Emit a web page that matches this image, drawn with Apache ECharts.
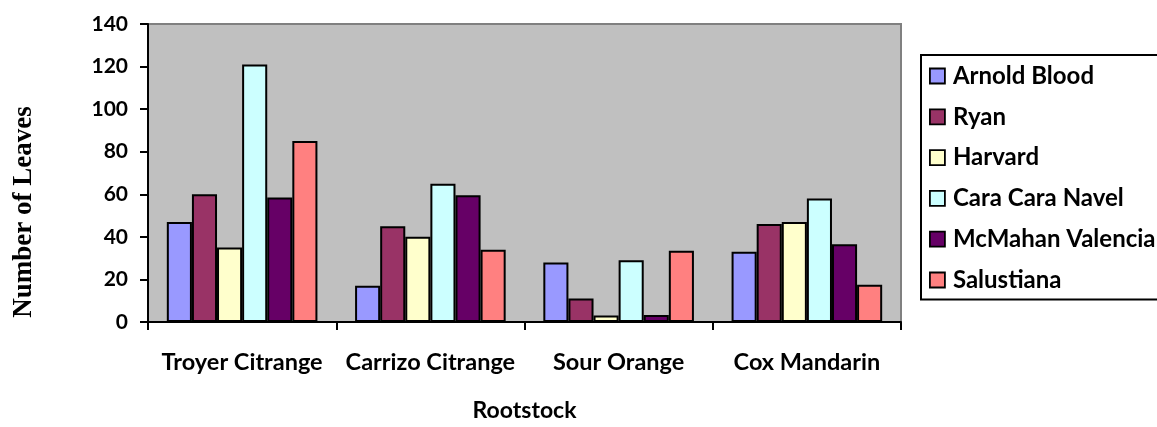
<!DOCTYPE html>
<html>
<head>
<meta charset="utf-8">
<script src="https://cdn.jsdelivr.net/npm/echarts@6/dist/echarts.min.js"></script>
<style>
  html, body { margin: 0; padding: 0; background: #ffffff; }
  #chart { width: 1157px; height: 427px; }
</style>
</head>
<body>
<div id="chart"></div>
<script>
// Rootstock categories on the x axis
const rootstocks = ['Troyer Citrange', 'Carrizo Citrange', 'Sour Orange', 'Cox Mandarin'];

// Leaf counts per scion variety, one value per rootstock
const arnoldBlood     = [47, 17, 28, 33];
const ryan            = [60, 45, 11, 46];
const harvard         = [35, 40, 3, 47];
const caraCaraNavel   = [121, 65, 29, 58];
const mcmahanValencia = [58.5, 59.5, 3.3, 36.5];
const salustiana      = [85, 34, 33.5, 17.5];

const seriesNames = ['Arnold Blood', 'Ryan', 'Harvard', 'Cara Cara Navel', 'McMahan Valencia', 'Salustiana'];
const seriesData  = [arnoldBlood, ryan, harvard, caraCaraNavel, mcmahanValencia, salustiana];
const seriesColors = ['#9999FF', '#993366', '#FFFFCC', '#CCFFFF', '#660066', '#FF8080'];

const sansBold = { fontFamily: 'Lato', fontWeight: 'bold', color: '#000000' };

const chart = echarts.init(document.getElementById('chart'), null, { renderer: 'canvas' });

chart.setOption({
  animation: false,
  backgroundColor: '#ffffff',
  grid: {
    left: 148, right: 256, top: 24, bottom: 97,
    show: true,
    backgroundColor: '#C0C0C0',
    borderColor: '#808080',
    borderWidth: 2
  },
  legend: {
    orient: 'vertical',
    left: 921,
    top: 55,
    padding: [9, 200, 7.5, 8],
    itemGap: 16.8,
    itemWidth: 15,
    itemHeight: 15,
    icon: 'rect',
    borderColor: '#000000',
    borderWidth: 2,
    backgroundColor: '#ffffff',
    itemStyle: { borderColor: '#000000', borderWidth: 1.8 },
    textStyle: Object.assign({ fontSize: 24, lineHeight: 20, padding: [0, 0, 0, 3] }, sansBold),
    data: seriesNames
  },
  xAxis: {
    type: 'category',
    data: rootstocks,
    name: 'Rootstock',
    nameLocation: 'middle',
    nameGap: 77,
    nameTextStyle: Object.assign({ fontSize: 23 }, sansBold),
    axisLine: { lineStyle: { color: '#000000', width: 2 } },
    axisTick: { show: true, interval: 0, length: 8, lineStyle: { color: '#000000', width: 2 } },
    axisLabel: Object.assign({ interval: 0, fontSize: 23.5, margin: 28 }, sansBold),
    splitLine: { show: false }
  },
  yAxis: {
    type: 'value',
    min: 0,
    max: 140,
    interval: 20,
    axisLine: { show: true, lineStyle: { color: '#000000', width: 2 } },
    axisTick: { show: true, length: 8, lineStyle: { color: '#000000', width: 2 } },
    axisLabel: Object.assign({ fontSize: 21, margin: 20 }, sansBold),
    splitLine: { show: false }
  },
  graphic: [{
    type: 'text',
    x: 24,
    y: 212,
    rotation: Math.PI / 2,
    style: {
      text: 'Number of Leaves',
      fontFamily: 'Liberation Serif',
      fontWeight: 'bold',
      fontSize: 27,
      fill: '#000000',
      align: 'center',
      verticalAlign: 'middle'
    }
  }],
  series: seriesNames.map((name, i) => ({
    name: name,
    type: 'bar',
    data: seriesData[i],
    barGap: '0%',
    barCategoryGap: '20%',
    itemStyle: { color: seriesColors[i], borderColor: '#000000', borderWidth: 2 }
  }))
});
</script>
</body>
</html>
